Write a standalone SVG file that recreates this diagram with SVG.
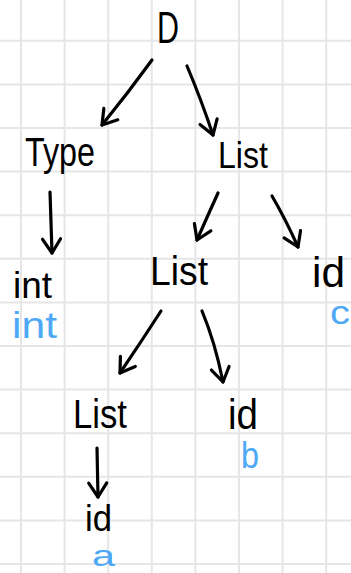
<svg xmlns="http://www.w3.org/2000/svg" width="351" height="573" viewBox="0 0 351 573">
  <style>
    .grid line { stroke: #e6e6e6; stroke-width: 2; }
    .edge { fill: none; stroke: #000; stroke-width: 3.2; stroke-linecap: round; stroke-linejoin: round; marker-end: url(#head); }
    .sym { font-family: "Liberation Sans", Arial, sans-serif; fill: #000; }
    .val { font-family: "Liberation Sans", Arial, sans-serif; fill: #4da8f5; }
  </style>
  <defs>
    <marker id="head" markerUnits="userSpaceOnUse" markerWidth="20" markerHeight="22" viewBox="-16 -11 18 22" refX="0" refY="0" orient="auto" overflow="visible">
      <path d="M-14,-9 L0,0 L-14,9" fill="none" stroke="#000" stroke-width="3.2" stroke-linecap="round" stroke-linejoin="round"/>
    </marker>
  </defs>
  <rect width="351" height="573" fill="#fff"/>
  <!-- squared paper -->
  <g class="grid">
    <line x1="21" y1="0" x2="21" y2="573"/>
    <line x1="64.6" y1="0" x2="64.6" y2="573"/>
    <line x1="108.2" y1="0" x2="108.2" y2="573"/>
    <line x1="151.8" y1="0" x2="151.8" y2="573"/>
    <line x1="195.4" y1="0" x2="195.4" y2="573"/>
    <line x1="239" y1="0" x2="239" y2="573"/>
    <line x1="282.6" y1="0" x2="282.6" y2="573"/>
    <line x1="326.2" y1="0" x2="326.2" y2="573"/>
    <line x1="0" y1="40.8" x2="351" y2="40.8"/>
    <line x1="0" y1="84.4" x2="351" y2="84.4"/>
    <line x1="0" y1="128" x2="351" y2="128"/>
    <line x1="0" y1="171.6" x2="351" y2="171.6"/>
    <line x1="0" y1="215.2" x2="351" y2="215.2"/>
    <line x1="0" y1="258.8" x2="351" y2="258.8"/>
    <line x1="0" y1="302.4" x2="351" y2="302.4"/>
    <line x1="0" y1="346" x2="351" y2="346"/>
    <line x1="0" y1="389.6" x2="351" y2="389.6"/>
    <line x1="0" y1="433.2" x2="351" y2="433.2"/>
    <line x1="0" y1="476.8" x2="351" y2="476.8"/>
    <line x1="0" y1="520.4" x2="351" y2="520.4"/>
    <line x1="0" y1="564" x2="351" y2="564"/>
  </g>

  <!-- parse tree edges -->
  <g id="edges">
    <path class="edge" d="M152,60 Q128,93 102,125"/>
    <path class="edge" d="M187,66 Q201,99 213,135"/>
    <path class="edge" d="M50,192 L52,253"/>
    <path class="edge" d="M218,193 Q208,215 197,240"/>
    <path class="edge" d="M272,196 Q286,220 298,247"/>
    <path class="edge" d="M161,311 Q141,342 120,373"/>
    <path class="edge" d="M202,311 Q215,342 223,382"/>
    <path class="edge" d="M97,448 L98,497"/>
  </g>

  <!-- nodes -->
  <g id="n-D"><text class="sym" x="157" y="43" font-size="45" textLength="22" lengthAdjust="spacingAndGlyphs">D</text></g>
  <g id="n-Type"><text class="sym" x="25" y="166" font-size="40" textLength="70" lengthAdjust="spacingAndGlyphs">Type</text></g>
  <g id="n-List1"><text class="sym" x="218" y="168" font-size="37" textLength="50" lengthAdjust="spacingAndGlyphs">List</text></g>
  <g id="n-int">
    <text class="sym" x="13" y="298" font-size="36" textLength="39" lengthAdjust="spacingAndGlyphs">int</text>
    <text class="val" x="12" y="338" font-size="36" textLength="45" lengthAdjust="spacingAndGlyphs">int</text>
  </g>
  <g id="n-List2"><text class="sym" x="150" y="285" font-size="40" textLength="58" lengthAdjust="spacingAndGlyphs">List</text></g>
  <g id="n-id-c">
    <text class="sym" x="312" y="287" font-size="42" textLength="33" lengthAdjust="spacingAndGlyphs">id</text>
    <text class="val" x="330" y="324" font-size="33" textLength="20" lengthAdjust="spacingAndGlyphs">c</text>
  </g>
  <g id="n-List3"><text class="sym" x="73" y="428" font-size="40" textLength="54" lengthAdjust="spacingAndGlyphs">List</text></g>
  <g id="n-id-b">
    <text class="sym" x="228" y="429" font-size="42" textLength="30" lengthAdjust="spacingAndGlyphs">id</text>
    <text class="val" x="241" y="468" font-size="36" textLength="18" lengthAdjust="spacingAndGlyphs">b</text>
  </g>
  <g id="n-id-a">
    <text class="sym" x="85" y="531" font-size="37" textLength="27" lengthAdjust="spacingAndGlyphs">id</text>
    <text class="val" x="92" y="566" font-size="30" textLength="23" lengthAdjust="spacingAndGlyphs">a</text>
  </g>
</svg>
